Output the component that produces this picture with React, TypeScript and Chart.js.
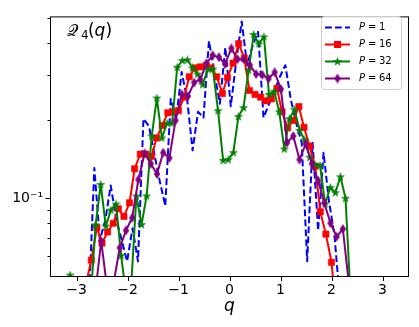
import React, { useEffect, useRef } from 'react';
import { Chart, registerables } from 'chart.js';
Chart.register(...registerables);

// ---- data ----
const qP1 = [-2.757, -2.65, -2.543, -2.436, -2.329, -2.222, -2.115, -2.008, -1.901, -1.794, -1.687, -1.58, -1.473, -1.366, -1.259, -1.152, -1.045, -0.938, -0.831, -0.724, -0.617, -0.51, -0.403, -0.296, -0.189, -0.082, 0.025, 0.132, 0.239, 0.346, 0.453, 0.56, 0.667, 0.774, 0.881, 0.988, 1.095, 1.202, 1.309, 1.416, 1.523, 1.63, 1.737, 1.844, 1.951, 2.058, 2.165];
const valP1 = [0.04, 0.131, 0.069, 0.082, 0.112, 0.083, 0.069, 0.057, 0.0765, 0.057, 0.203, 0.19, 0.148, 0.116, 0.0933, 0.242, 0.203, 0.308, 0.242, 0.153, 0.216, 0.205, 0.406, 0.306, 0.232, 0.383, 0.227, 0.339, 0.483, 0.327, 0.389, 0.44, 0.205, 0.231, 0.26, 0.295, 0.327, 0.241, 0.195, 0.164, 0.057, 0.164, 0.075, 0.15, 0.097, 0.072, 0.04];

const qP16 = [-2.82, -2.71, -2.6, -2.5, -2.39, -2.28, -2.18, -2.07, -1.96, -1.86, -1.75, -1.64, -1.53, -1.43, -1.32, -1.21, -1.11, -1.0, -0.89, -0.79, -0.68, -0.57, -0.46, -0.36, -0.25, -0.14, -0.04, 0.07, 0.18, 0.29, 0.39, 0.5, 0.61, 0.71, 0.82, 0.93, 1.03, 1.14, 1.25, 1.36, 1.46, 1.57, 1.68, 1.78, 1.89, 2.0, 2.1];
const valP16 = [0.046, 0.0576, 0.077, 0.067, 0.074, 0.08, 0.091, 0.085, 0.096, 0.13, 0.148, 0.148, 0.145, 0.171, 0.191, 0.214, 0.216, 0.218, 0.246, 0.295, 0.319, 0.322, 0.325, 0.319, 0.295, 0.254, 0.293, 0.333, 0.396, 0.348, 0.261, 0.252, 0.246, 0.238, 0.242, 0.266, 0.216, 0.187, 0.2, 0.226, 0.188, 0.159, 0.133, 0.0886, 0.0726, 0.0565, 0.035];

const qP32 = [-3.125, -3.025, -2.925, -2.825, -2.725, -2.625, -2.525, -2.425, -2.325, -2.225, -2.125, -2.025, -1.925, -1.825, -1.725, -1.625, -1.525, -1.425, -1.325, -1.225, -1.125, -1.025, -0.925, -0.825, -0.725, -0.625, -0.525, -0.425, -0.325, -0.225, -0.125, -0.025, 0.075, 0.175, 0.275, 0.375, 0.475, 0.575, 0.675, 0.775, 0.875, 0.975, 1.075, 1.175, 1.275, 1.375, 1.475, 1.575, 1.675, 1.775, 1.875, 1.975, 2.075, 2.175, 2.275, 2.375, 2.475];
const valP32 = [0.0504, 0.035, 0.03, 0.033, 0.04, 0.0789, 0.113, 0.078, 0.09, 0.095, 0.06, 0.042, 0.047, 0.102, 0.079, 0.102, 0.174, 0.244, 0.171, 0.195, 0.195, 0.321, 0.341, 0.343, 0.319, 0.302, 0.275, 0.316, 0.316, 0.218, 0.14, 0.141, 0.15, 0.207, 0.224, 0.313, 0.43, 0.396, 0.421, 0.252, 0.259, 0.216, 0.155, 0.203, 0.22, 0.183, 0.168, 0.144, 0.135, 0.134, 0.095, 0.11, 0.105, 0.121, 0.1, 0.041, 0.035];

const qP64 = [-2.637, -2.516, -2.394, -2.273, -2.151, -2.03, -1.908, -1.787, -1.665, -1.544, -1.422, -1.301, -1.179, -1.058, -0.936, -0.815, -0.693, -0.572, -0.45, -0.329, -0.207, -0.086, 0.036, 0.157, 0.279, 0.4, 0.522, 0.643, 0.765, 0.886, 1.008, 1.129, 1.251, 1.372, 1.494, 1.615, 1.737, 1.858, 1.98, 2.101, 2.223, 2.344];
const valP64 = [0.042, 0.0683, 0.044, 0.047, 0.0643, 0.075, 0.084, 0.118, 0.149, 0.136, 0.124, 0.15, 0.143, 0.2, 0.252, 0.248, 0.28, 0.288, 0.333, 0.357, 0.351, 0.33, 0.38, 0.345, 0.345, 0.327, 0.302, 0.3, 0.29, 0.307, 0.264, 0.164, 0.174, 0.141, 0.162, 0.136, 0.117, 0.096, 0.08, 0.071, 0.076, 0.046];

const xTicks = [-3, -2, -1, 0, 1, 2, 3];
const yTicks = [0.06, 0.07, 0.08, 0.09, 0.1, 0.2, 0.3, 0.4, 0.5];
const yMajor = [0.1];
const legendValues = ['1', '16', '32', '64'];

const BLUE = '#0000ff';
const RED = '#ff0000';
const GREEN = '#008000';
const PURPLE = '#800080';
const FONT = '"DejaVu Sans", sans-serif';

function makeStar(color: string) {
  const c = document.createElement('canvas');
  c.width = 9; c.height = 9;
  const ctx = c.getContext('2d')!;
  const cx = 4.5, cy = 4.8, R = 4.1, r = 4.1 * 0.382;
  ctx.beginPath();
  for (let i = 0; i < 10; i++) {
    const a = -Math.PI / 2 + (i * Math.PI) / 5;
    const rad = i % 2 === 0 ? R : r;
    const x = cx + rad * Math.cos(a), y = cy + rad * Math.sin(a);
    if (i === 0) ctx.moveTo(x, y); else ctx.lineTo(x, y);
  }
  ctx.closePath();
  ctx.fillStyle = color; ctx.fill();
  ctx.strokeStyle = color; ctx.lineWidth = 0.6; ctx.stroke();
  return c;
}

function makeDiamond(color: string) {
  const c = document.createElement('canvas');
  c.width = 8; c.height = 10;
  const ctx = c.getContext('2d')!;
  ctx.beginPath();
  ctx.moveTo(4, 0.6); ctx.lineTo(6.9, 5); ctx.lineTo(4, 9.4); ctx.lineTo(1.1, 5);
  ctx.closePath();
  ctx.fillStyle = color; ctx.fill();
  ctx.strokeStyle = color; ctx.lineWidth = 0.6; ctx.stroke();
  return c;
}

const fmtX = (v: number) => (v < 0 ? '\u2212' + Math.abs(v) : String(v));

export default function App() {
  const ref = useRef<HTMLCanvasElement>(null);
  useEffect(() => {
    document.body.style.margin = '0';
    const canvas = ref.current!;
    const star = makeStar(GREEN);
    const diamond = makeDiamond(PURPLE);
    const pts = (qs: number[], vs: number[]) => qs.map((q, i) => ({ x: q, y: vs[i] }));

    const overlay = {
      id: 'overlay',
      afterDraw(chart: any) {
        const ctx = chart.ctx as CanvasRenderingContext2D;
        const a = chart.chartArea;
        const xs = chart.scales.x, ys = chart.scales.y;
        ctx.save();
        // frame
        ctx.strokeStyle = '#000';
        ctx.lineWidth = 1;
        ctx.strokeRect(a.left - 0.5, a.top + 0.5, a.right - a.left + 1, a.bottom - a.top);
        // ticks
        ctx.beginPath();
        xTicks.forEach(v => {
          const px = Math.round(xs.getPixelForValue(v)) + 0.5;
          ctx.moveTo(px, a.bottom); ctx.lineTo(px, a.bottom + 5);
        });
        yTicks.forEach(v => {
          const py = Math.round(ys.getPixelForValue(v)) + 0.5;
          const len = yMajor.includes(v) ? 5 : 3;
          ctx.moveTo(a.left - 0.5, py); ctx.lineTo(a.left - 0.5 - len, py);
        });
        ctx.stroke();
        // axis title
        ctx.fillStyle = '#000';
        ctx.font = 'italic 17px ' + FONT;
        ctx.textAlign = 'center';
        ctx.textBaseline = 'alphabetic';
        ctx.fillText('q', (a.left + a.right) / 2, 311);
        // annotation Q_4(q)
        ctx.textAlign = 'left';
        ctx.font = '16px ' + FONT;
        ctx.fillText('\u{1D4AC}', 67, 36);
        ctx.font = '12px ' + FONT;
        ctx.fillText('4', 81, 39);
        ctx.font = '17px ' + FONT;
        ctx.fillText('(', 88, 36);
        ctx.font = 'italic 17px ' + FONT;
        ctx.fillText('q', 94.5, 36);
        ctx.font = '17px ' + FONT;
        ctx.fillText(')', 105.5, 36);
        // legend
        const bx = 321.5, by = 16.5, bw = 80, bh = 73;
        ctx.beginPath();
        ctx.roundRect(bx, by, bw, bh, 3);
        ctx.fillStyle = 'rgba(255,255,255,0.8)';
        ctx.fill();
        ctx.strokeStyle = '#cccccc';
        ctx.lineWidth = 1;
        ctx.stroke();
        const rows = [27.5, 44.5, 61.5, 78.5];
        const cols = [BLUE, RED, GREEN, PURPLE];
        rows.forEach((ry, i) => {
          ctx.save();
          ctx.strokeStyle = cols[i];
          ctx.lineWidth = 2;
          if (i === 0) ctx.setLineDash([6.8, 3.2]);
          ctx.beginPath();
          ctx.moveTo(325, ry); ctx.lineTo(350, ry);
          ctx.stroke();
          ctx.restore();
          if (i === 1) { ctx.fillStyle = RED; ctx.fillRect(334, ry - 3.5, 7, 7); }
          if (i === 2) ctx.drawImage(star, 337.5 - star.width / 2, ry - star.height / 2);
          if (i === 3) ctx.drawImage(diamond, 337.5 - diamond.width / 2, ry - diamond.height / 2);
          ctx.fillStyle = '#000';
          ctx.textBaseline = 'middle';
          ctx.textAlign = 'left';
          ctx.font = 'italic 10px ' + FONT;
          ctx.fillText('P', 359, ry);
          ctx.font = '10px ' + FONT;
          ctx.fillText('=', 368, ry);
          ctx.fillText(legendValues[i], 379, ry);
        });
        ctx.restore();
      },
    };

    const chart = new Chart(canvas, {
      type: 'line',
      data: {
        datasets: [
          {
            label: 'P = 1', data: pts(qP1, valP1), borderColor: BLUE, borderWidth: 2,
            borderDash: [6.8, 3.2], pointRadius: 0, order: 3, clip: 0, borderJoinStyle: 'round',
          },
          {
            label: 'P = 16', data: pts(qP16, valP16), borderColor: RED, backgroundColor: RED,
            borderWidth: 2, pointStyle: 'rect', pointRadius: 4.4, pointBorderWidth: 0.6,
            pointBorderColor: RED, pointBackgroundColor: RED, order: 2, clip: 0, borderJoinStyle: 'round',
          },
          {
            label: 'P = 32', data: pts(qP32, valP32), borderColor: GREEN, backgroundColor: GREEN,
            borderWidth: 2, pointStyle: star as any, pointRadius: 4, order: 1, clip: 0, borderJoinStyle: 'round',
          },
          {
            label: 'P = 64', data: pts(qP64, valP64), borderColor: PURPLE, backgroundColor: PURPLE,
            borderWidth: 2, pointStyle: diamond as any, pointRadius: 4, order: 0, clip: 0, borderJoinStyle: 'round',
          },
        ] as any,
      },
      options: {
        responsive: false,
        animation: false,
        devicePixelRatio: 1,
        events: [],
        layout: { padding: { top: 10, right: 11, left: 0, bottom: 0 } },
        plugins: { legend: { display: false }, tooltip: { enabled: false } },
        scales: {
          x: {
            type: 'linear', min: -3.5, max: 3.5,
            afterBuildTicks: (s: any) => { s.ticks = xTicks.map(v => ({ value: v })); },
            afterFit: (s: any) => { s.height = 51; },
            grid: { display: false, drawTicks: false },
            border: { display: false },
            ticks: {
              padding: 6, color: '#000', autoSkip: false, maxRotation: 0,
              font: { family: FONT, size: 14 },
              callback: (v: any) => fmtX(Number(v)),
            },
          },
          y: {
            type: 'logarithmic', min: 0.05, max: 0.505,
            afterBuildTicks: (s: any) => { s.ticks = yTicks.map(v => ({ value: v })); },
            afterFit: (s: any) => { s.width = 51; },
            grid: { display: false, drawTicks: false },
            border: { display: false },
            ticks: {
              padding: 8, color: '#000', autoSkip: false,
              font: { family: FONT, size: 14 },
              callback: (v: any) => (yMajor.includes(Number(v)) ? '10\u207B\u00B9' : ''),
            },
          },
        },
      } as any,
      plugins: [overlay],
    });
    return () => chart.destroy();
  }, []);
  return (
    <div style={{ width: 419, height: 327 }}>
      <canvas ref={ref} width={419} height={327} style={{ display: 'block', width: 419, height: 327 }} />
    </div>
  );
}
